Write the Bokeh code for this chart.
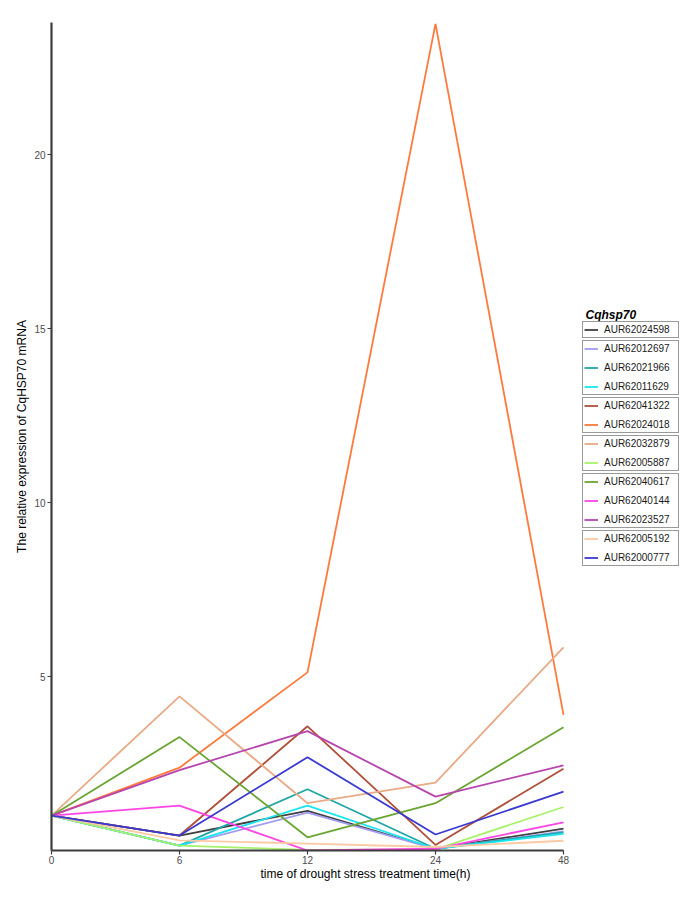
import math
from bokeh.plotting import figure
from bokeh.models import (Range1d, FixedTicker, Legend, LegendItem, Label, LinearAxis)
from bokeh.embed import file_html
from bokeh.resources import INLINE

# ---- data ----
time_labels = ["0", "6", "12", "24", "48"]
genes = ["AUR62024598", "AUR62012697", "AUR62021966", "AUR62011629",
         "AUR62041322", "AUR62024018", "AUR62032879", "AUR62005887",
         "AUR62040617", "AUR62040144", "AUR62023527", "AUR62005192",
         "AUR62000777"]
AUR62024598 = [1.0, 0.43, 1.14, 0.05, 0.63]
AUR62012697 = [1.0, 0.14, 1.09, 0.05, 0.55]
AUR62021966 = [1.0, 0.14, 1.76, 0.05, 0.52]
AUR62011629 = [1.0, 0.14, 1.29, 0.05, 0.48]
AUR62041322 = [1.0, 0.43, 3.57, 0.16, 2.35]
AUR62024018 = [1.0, 2.38, 5.12, 23.76, 3.90]
AUR62032879 = [1.0, 4.43, 1.36, 1.95, 5.84]
AUR62005887 = [1.0, 0.14, 0.02, 0.03, 1.25]
AUR62040617 = [1.0, 3.26, 0.38, 1.36, 3.54]
AUR62040144 = [1.0, 1.29, 0.00, 0.05, 0.81]
AUR62023527 = [1.0, 2.31, 3.43, 1.55, 2.45]
AUR62005192 = [1.0, 0.29, 0.20, 0.10, 0.28]
AUR62000777 = [1.0, 0.43, 2.68, 0.46, 1.69]
series = [AUR62024598, AUR62012697, AUR62021966, AUR62011629, AUR62041322,
          AUR62024018, AUR62032879, AUR62005887, AUR62040617, AUR62040144,
          AUR62023527, AUR62005192, AUR62000777]
colors = ["#404040", "#a09cf0", "#1fa6a6", "#19e6ee", "#b0503a",
          "#ff7a3c", "#e9aa86", "#a6f26a", "#6aa532", "#ff45e6",
          "#b845ae", "#fcc9a3", "#3a3ad0"]
legend_groups = [[0], [1, 2, 3], [4, 5], [6, 7], [8, 9, 10], [11, 12]]
y_ticks = [5, 10, 15, 20]

FONT = "Liberation Sans"

W, H = 679, 883
LEFT, TOP, BOTTOM = 51, 22, 28
PX_PER_STEP = 128.0
x_end = (W - LEFT) / PX_PER_STEP

p = figure(width=W, height=H, output_backend="svg", toolbar_location=None,
           x_range=Range1d(0, x_end), y_range=Range1d(0, 23.8),
           min_border_left=LEFT, min_border_right=0, min_border_top=TOP,
           min_border_bottom=BOTTOM)
p.outline_line_color = None
p.xgrid.visible = False
p.ygrid.visible = False
p.background_fill_color = "white"
p.border_fill_color = "white"

xs = list(range(len(time_labels)))
renderers = []
for name, vals, col in zip(genes, series, colors):
    r = p.line(xs, vals, line_color=col, line_width=1.8)
    renderers.append(r)

for ax in (p.xaxis[0], p.yaxis[0]):
    ax.axis_line_color = "#3d3d3d"
    ax.axis_line_width = 2.2
    ax.major_tick_line_color = "#3d3d3d"
    ax.major_tick_line_width = 1.2
    ax.major_tick_out = 4
    ax.major_tick_in = 0
    ax.minor_tick_out = 0
    ax.minor_tick_in = 0
    ax.major_label_text_font = FONT
    ax.major_label_text_font_size = "10px"
    ax.major_label_text_color = "#4d4d4d"
    ax.axis_label_text_font = FONT
    ax.axis_label_text_font_size = "12px"
    ax.axis_label_text_font_style = "normal"
    ax.axis_label_text_color = "black"

p.xaxis[0].ticker = FixedTicker(ticks=xs)
p.xaxis[0].major_label_overrides = {i: lab for i, lab in enumerate(time_labels)}
p.xaxis[0].bounds = (0, len(time_labels) - 1)
p.xaxis[0].major_label_standoff = 1
p.yaxis[0].ticker = FixedTicker(ticks=y_ticks)
p.yaxis[0].major_label_standoff = 2
p.yaxis[0].axis_label = "The relative expression of CqHSP70 mRNA"
p.yaxis[0].axis_label_standoff = 2

# x-axis title carried by a second, line-less axis spanning the wider panel
title_axis = LinearAxis(ticker=FixedTicker(ticks=[]), bounds=(0, 4.92),
                        axis_line_color=None, major_tick_line_color=None,
                        minor_tick_line_color=None,
                        axis_label="time of drought stress treatment time(h)",
                        axis_label_standoff=0,
                        axis_label_text_font=FONT,
                        axis_label_text_font_size="12px",
                        axis_label_text_font_style="normal",
                        axis_label_text_color="black",
                        major_label_text_font_size="1px")
p.add_layout(title_axis, "below")

frame_bottom = 850

# legend title
p.add_layout(Label(x=534, y=frame_bottom - 314, x_units="screen", y_units="screen",
                   text="Cqhsp70", text_align="left", text_baseline="middle",
                   text_font=FONT, text_font_style="bold italic",
                   text_font_size="12px", text_color="black"))

# grouped legends
for grp in legend_groups:
    i0 = grp[0]
    n = len(grp)
    top = 322.5 + 19 * i0
    bottom = top + 19 * n - 4
    items = [LegendItem(label=genes[k], renderers=[renderers[k]]) for k in grp]
    lg = Legend(items=items, location=(531, frame_bottom - bottom),
                padding=1, spacing=6, margin=0,
                glyph_width=14, glyph_height=13, label_height=13,
                label_width=73, label_standoff=6,
                label_text_font=FONT, label_text_font_size="10px",
                label_text_color="#1a1a1a",
                border_line_color="#333333", border_line_width=1.2,
                background_fill_color="white", background_fill_alpha=1.0)
    p.add_layout(lg)

open("out.html", "w").write(file_html(p, INLINE))
